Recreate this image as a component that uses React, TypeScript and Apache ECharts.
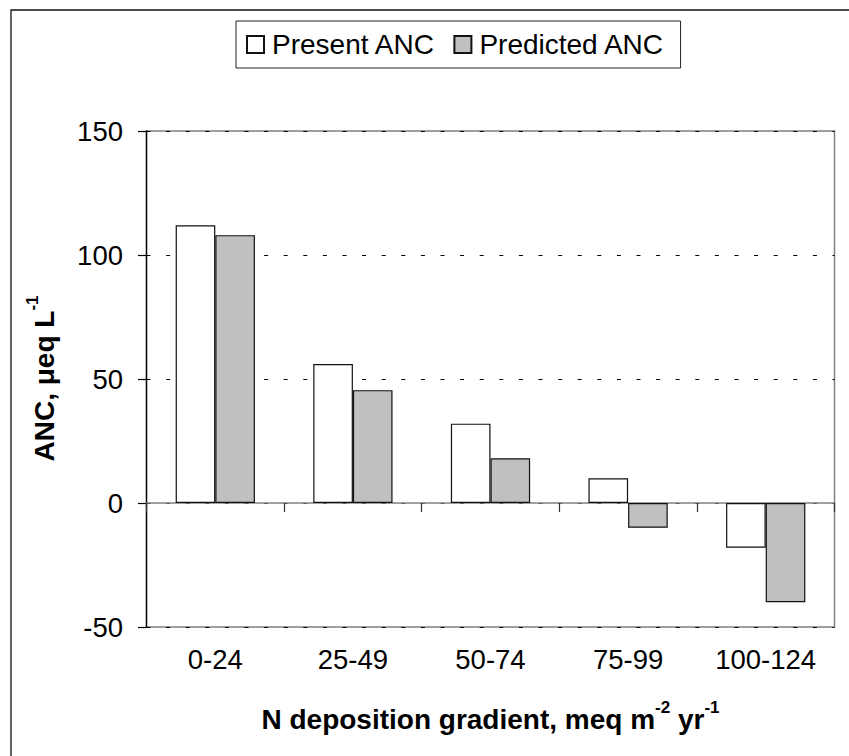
import React, { useEffect, useRef } from 'react';
import * as echarts from 'echarts';

const categories = ['0-24', '25-49', '50-74', '75-99', '100-124'];
const presentANC = [112, 56, 32, 10, -18];
const predictedANC = [108, 45.5, 18, -10, -40];
const seriesNames = ['Present ANC', 'Predicted ANC'];
const yMin = -50;
const yMax = 150;
const yStep = 50;

const FONT = '"Liberation Sans", Arial, Helvetica, sans-serif';

export default function App() {
  const ref = useRef<HTMLDivElement>(null);

  useEffect(() => {
    const chart = echarts.init(ref.current!, null, { renderer: 'svg' });

    const main = { fontSize: 28, fontWeight: 'bold', fontFamily: FONT, fill: '#000', lineHeight: 40 };
    const sup = { fontSize: 17, fontWeight: 'bold', fontFamily: FONT, fill: '#000', verticalAlign: 'top' };

    chart.setOption({
      animation: false,
      backgroundColor: '#ffffff',
      textStyle: { fontFamily: FONT },
      grid: {
        left: 146.5,
        right: 14.5,
        top: 131,
        bottom: 129,
        show: true,
        borderColor: '#808080',
        borderWidth: 1.5,
        backgroundColor: 'transparent',
      },
      legend: {
        data: seriesNames,
        left: 236,
        top: 21,
        orient: 'horizontal',
        padding: [7.5, 16, 7.5, 10],
        itemWidth: 17,
        itemHeight: 17,
        itemGap: 18,
        icon: 'rect',
        selectedMode: false,
        borderColor: '#222',
        borderWidth: 1,
        textStyle: { fontSize: 28, color: '#000', fontFamily: FONT, lineHeight: 32, padding: [0, 0, 0, 3] },
      },
      xAxis: [
        {
          type: 'category',
          data: categories,
          position: 'bottom',
          axisLine: { show: false, onZero: false },
          axisTick: { show: false },
          splitLine: { show: false },
          axisLabel: { fontSize: 27.5, color: '#000', margin: 18, fontFamily: FONT },
        },
        {
          type: 'category',
          data: categories,
          position: 'bottom',
          z: 1,
          axisLine: { show: true, onZero: true, onZeroAxisIndex: 0, lineStyle: { color: '#808080', width: 1.5 } },
          axisTick: { show: true, inside: false, length: 9, lineStyle: { color: '#333', width: 1.2 } },
          axisLabel: { show: false },
          splitLine: { show: false },
        },
      ],
      yAxis: {
        type: 'value',
        min: yMin,
        max: yMax,
        interval: yStep,
        axisLine: { show: true, onZero: false, lineStyle: { color: '#000', width: 1.3 } },
        axisTick: { show: true, inside: false, length: 8.5, lineStyle: { color: '#000', width: 1.2 } },
        axisLabel: { fontSize: 27.5, color: '#000', margin: 23.5, fontFamily: FONT },
        splitLine: { show: true, lineStyle: { color: '#000', width: 1, type: [4, 15.6] } },
      },
      series: [
        {
          name: seriesNames[0],
          type: 'bar',
          xAxisIndex: 0,
          data: presentANC,
          barGap: '0%',
          barCategoryGap: '42.4%',
          itemStyle: { color: '#ffffff', borderColor: '#111', borderWidth: 1.2 },
        },
        {
          name: seriesNames[1],
          type: 'bar',
          xAxisIndex: 0,
          data: predictedANC,
          barGap: '0%',
          barCategoryGap: '42.4%',
          itemStyle: { color: '#c0c0c0', borderColor: '#111', borderWidth: 1.2 },
        },
      ],
      graphic: [
        {
          type: 'rect',
          shape: { x: 11, y: 10, width: 900, height: 900 },
          style: { fill: 'none', stroke: '#111', lineWidth: 1.3 },
          silent: true,
        },
        {
          type: 'text',
          x: 44,
          y: 378.5,
          rotation: Math.PI / 2,
          style: {
            text: '{a|ANC, μeq L}{s|-1}',
            align: 'center',
            verticalAlign: 'middle',
            rich: { a: main, s: sup },
          },
        },
        {
          type: 'text',
          x: 490.5,
          y: 719,
          style: {
            text: '{a|N deposition gradient, meq m}{s|-2}{a| yr}{s|-1}',
            align: 'center',
            verticalAlign: 'middle',
            rich: { a: main, s: sup },
          },
        },
      ],
    });

    return () => chart.dispose();
  }, []);

  return (
    <div
      ref={ref}
      style={{ position: 'fixed', left: 0, top: 0, width: 849, height: 756, background: '#fff' }}
    />
  );
}
